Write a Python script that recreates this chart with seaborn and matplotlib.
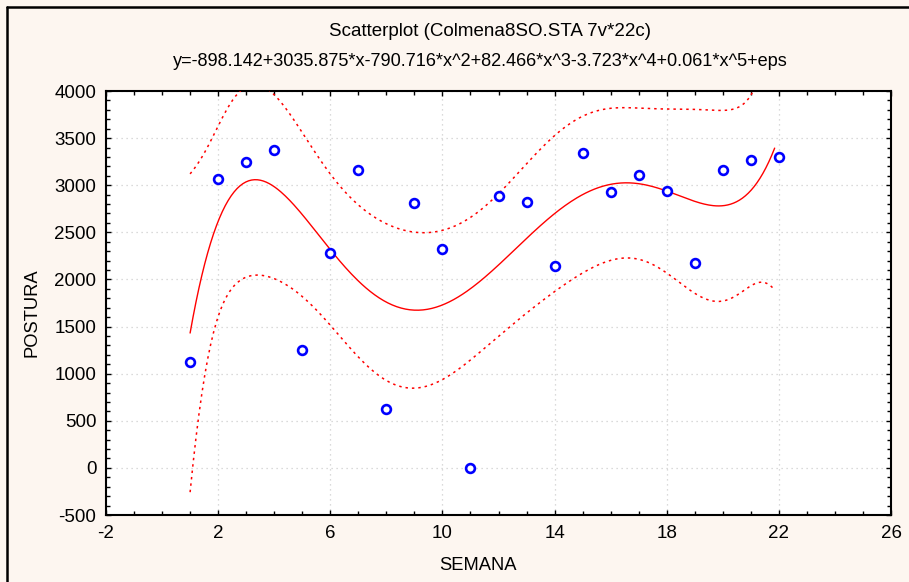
import numpy as np
import pandas as pd
import matplotlib
matplotlib.use("Agg")
import matplotlib.pyplot as plt
from matplotlib.ticker import MultipleLocator
import seaborn as sns

# ---- data ----
semana = [1, 2, 3, 4, 5, 6, 7, 8, 9, 10, 11, 12, 13, 14, 15, 16, 17, 18, 19, 20, 21, 22]
postura = [1120, 3070, 3250, 3375, 1250, 2280, 3160, 630, 2815, 2325, 0, 2885,
           2820, 2140, 3345, 2930, 3110, 2940, 2175, 3160, 3270, 3295]
title_line1 = "Scatterplot (Colmena8SO.STA 7v*22c)"
title_line2 = "y=-898.142+3035.875*x-790.716*x^2+82.466*x^3-3.723*x^4+0.061*x^5+eps"
x_label = "SEMANA"
y_label = "POSTURA"
x_ticks = [-2, 2, 6, 10, 14, 18, 22, 26]
y_ticks = [-500, 0, 500, 1000, 1500, 2000, 2500, 3000, 3500, 4000]

# ---- 5th order polynomial fit with 95% confidence band for the mean ----
x = np.array(semana, dtype=float)
y = np.array(postura, dtype=float)
order = 5
X = np.vander(x, order + 1, increasing=True)
beta, *_ = np.linalg.lstsq(X, y, rcond=None)
resid = y - X @ beta
dof = len(x) - (order + 1)
s2 = resid @ resid / dof
XtX_inv = np.linalg.inv(X.T @ X)
t_crit = 2.1199  # t(0.975, 16)

xg = np.linspace(1, 21.85, 400)
Xg = np.vander(xg, order + 1, increasing=True)
yg = Xg @ beta
se = np.sqrt(s2 * np.einsum("ij,jk,ik->i", Xg, XtX_inv, Xg))
fit_df = pd.DataFrame({"x": xg, "fit": yg, "lo": yg - t_crit * se, "hi": yg + t_crit * se})
pts_df = pd.DataFrame({"SEMANA": semana, "POSTURA": postura})

# ---- figure ----
sns.set_theme(style="white")
plt.rcParams["font.family"] = ["Liberation Sans", "DejaVu Sans"]
plt.rcParams["axes.unicode_minus"] = False
bg = "#FDF6F0"
fig = plt.figure(figsize=(9.09, 5.82), dpi=100, facecolor=bg)
ax = fig.add_axes([106 / 909, 1 - 515 / 582, (891 - 106) / 909, (515 - 91) / 582])
ax.set_facecolor("white")

sns.lineplot(data=fit_df, x="x", y="fit", ax=ax, color="#FF0000", linewidth=1.0, zorder=3)
for col in ["lo", "hi"]:
    sns.lineplot(data=fit_df, x="x", y=col, ax=ax, color="#FF0000", linewidth=1.1,
                 linestyle=(0, (1.6, 2.6)), zorder=3)
sns.scatterplot(data=pts_df, x="SEMANA", y="POSTURA", ax=ax, marker="o", s=40,
                facecolor="white", edgecolor="#0000FF", linewidth=1.9, zorder=4)

ax.set_xlim(-2, 26)
ax.set_ylim(-500, 4000)
ax.set_xticks(x_ticks)
ax.set_yticks(y_ticks)
ax.xaxis.set_minor_locator(MultipleLocator(1))
ax.yaxis.set_minor_locator(MultipleLocator(100))
ax.tick_params(which="both", direction="in", top=True, right=True, bottom=True, left=True,
               length=3, width=1.0, color="black", labelsize=13.5, labelcolor="black", pad=7)
ax.tick_params(which="major", length=3.5)
ax.grid(True, which="major", color="#CFCFCF", linestyle=(0, (1, 3)), linewidth=0.9)
for sp in ax.spines.values():
    sp.set_visible(True)
    sp.set_color("black")
    sp.set_linewidth(1.5)
ax.set_xlabel("")
ax.set_ylabel("")

fig.text(478 / 909, 1 - 566 / 582, x_label, ha="center", va="center", fontsize=13.2, color="black")
fig.text(32 / 909, 1 - 313 / 582, y_label, ha="center", va="center", rotation=90,
         fontsize=13.2, color="black")
fig.text(490 / 909, 1 - 31 / 582, title_line1, ha="center", va="center", fontsize=13.5, color="black")
fig.text(480 / 909, 1 - 61 / 582, title_line2, ha="center", va="center", fontsize=13.1, color="black")

# window frame (left and top edges)
fig.add_artist(plt.Line2D([7 / 909, 7 / 909], [0, 1 - 7 / 582], transform=fig.transFigure,
                          color="black", linewidth=1.8))
fig.add_artist(plt.Line2D([7 / 909, 1], [1 - 7 / 582, 1 - 7 / 582], transform=fig.transFigure,
                          color="black", linewidth=1.8))

fig.savefig("out.png", dpi=100, facecolor=bg)
